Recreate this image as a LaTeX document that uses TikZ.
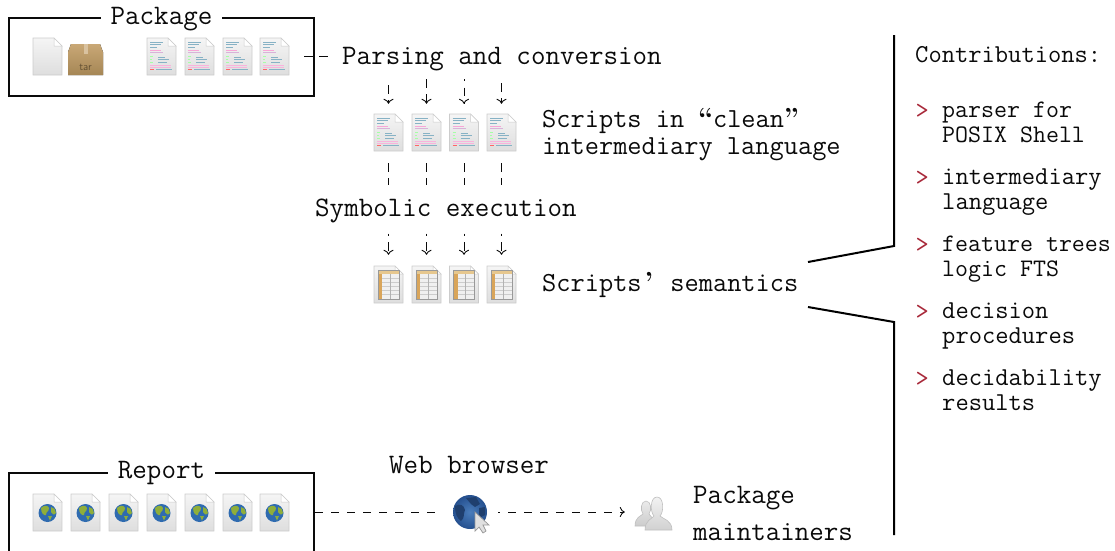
\documentclass[tikz,border=0pt]{standalone}
\usetikzlibrary{arrows.meta}
\definecolor{marker}{HTML}{A8293A}
\definecolor{ink}{HTML}{0A0A0A}
\definecolor{ballB}{HTML}{2F6BB0}
\definecolor{land}{HTML}{8FAE3A}
\definecolor{tan}{HTML}{C9A876}
\definecolor{tanD}{HTML}{A58655}
\definecolor{tabH}{HTML}{E6C78E}
\definecolor{tabC}{HTML}{D9A55A}
\definecolor{bigA}{HTML}{4A7DBB}
\definecolor{bigB}{HTML}{25508F}
\definecolor{bigL}{HTML}{1F3F6E}
\newcommand\bigtt{\fontsize{28.2pt}{28pt}\selectfont\ttfamily}
\newcommand\midtt{\fontsize{27.6pt}{27pt}\selectfont\ttfamily}
\newcommand\smalltt{\fontsize{25.8pt}{24.6pt}\selectfont\ttfamily}
\newcommand\smallertt{\fontsize{25.2pt}{24.6pt}\selectfont\ttfamily}
\newcommand\cellglyph[1]{\makebox[0.525em][c]{\rmfamily\bfseries #1}}
\tikzset{
  txt/.style={inner sep=0pt,anchor=base west,text=ink,font=\bigtt,align=left},
  item/.style={inner sep=0pt,anchor=base west,text=ink,font=\smalltt,align=left},
  bullet/.style={inner sep=0pt,anchor=base west,text=marker,font=\smalltt},
  frame/.style={draw=ink,line width=2pt,minimum width=305pt,inner sep=0pt},
  framelabel/.style={fill=white,inner xsep=10pt,inner ysep=1pt,anchor=base,text=ink,font=\bigtt},
  flow/.style={draw=ink,line width=0.9pt,dash pattern=on 8.5pt off 6.5pt},
  tipped/.style={-{Computer Modern Rightarrow[length=5pt,width=10pt]}},
  brace/.style={draw=black,line width=2pt},
  docbody/.style={draw=black!20,line width=0.7pt,top color=black!4,bottom color=black!13},
  docnode/.style={inner sep=0pt,minimum width=29pt,minimum height=37pt},
  pics/docshape/.style={code={
    \path[docbody] (0,0) -- (21,0) -- (29,8) -- (29,37) -- (0,37) -- cycle;
    \path[draw=black!20,fill=white,line width=0.5pt] (21,0) -- (21,8) -- (29,8) -- cycle;
  }},
  pics/blankfile/.style={code={\pic at (0,0) {docshape};
    \node[docnode] (-b) at (14.5,18.5) {};}},
  pics/textfile/.style={code={
    \pic at (0,0) {docshape};
    \node[docnode] (-b) at (14.5,18.5) {};
    \begin{scope}[line width=0.7pt]
      \draw[color=blue!30!cyan!35!gray!70] (3,4)--(16,4) (3,6.5)--(14,6.5) (3,9)--(10,9);
      \draw[color=magenta!35] (3,12)--(14,12);
      \draw[color=violet!30] (3,14)--(16,14);
      \draw[color=green!35] (3,18)--(6,18) (3,21)--(5,21) (3,24)--(6,24);
      \draw[color=blue!30!cyan!35!gray!70] (11,19)--(18,19) (11,21.5)--(22,21.5) (11,24)--(20,24) (9,31.5)--(25,31.5);
      \draw[color=magenta!30] (3,27)--(24,27) (3,29)--(24,29);
      \draw[color=red!60] (3,31.5)--(7,31.5);
    \end{scope}
  }},
  pics/tablefile/.style={code={
    \pic at (0,0) {docshape};
    \node[docnode] (-b) at (14.5,18.5) {};
    \fill[black!6] (4,4) rectangle (25,33);
    \fill[tabH] (4,4) rectangle (25,8);
    \fill[tabC] (4,8) rectangle (8,33);
    \foreach \r in {12,16,20,24,28} \draw[black!20,line width=0.5pt] (8,\r) -- (25,\r);
    \draw[black!30,line width=0.6pt] (16,8) -- (16,33);
    \draw[black!40,line width=0.8pt] (4,4) rectangle (25,33);
  }},
  pics/globefile/.style={code={
    \pic at (0,0) {docshape};
    \node[docnode] (-b) at (14.5,18.5) {};
    \fill[ballB] (14.5,19) circle (9);
    \fill[land] (8,14) .. controls (11,11) and (15,11) .. (16,14) .. controls (16,18) and (13,17) .. (13,21) .. controls (11,22) and (8,19) .. cycle;
    \fill[land] (18,13) .. controls (21,13) and (23,16) .. (23,19) .. controls (21,22) and (19,20) .. (18,18) -- cycle;
    \fill[land] (15,22) -- (19,22) -- (17,26.5) -- cycle;
  }},
  pics/tarbox/.style={code={
    \node[inner sep=0pt,minimum width=35pt,minimum height=31pt] (-b) at (17.5,15.5) {};
    \fill[top color=tan,bottom color=tanD] (0,8) -- (3,0) -- (32,0) -- (35,8) -- (35,31) -- (0,31) -- cycle;
    \fill[tan!70!white] (15.5,0) rectangle (19.5,10);
    \node[inner sep=0pt,text=tanD!60!black,font=\sffamily\fontsize{11pt}{11pt}\selectfont] (-l) at (17.5,23) {tar};
  }},
  pics/webglobe/.style={code={
    \node[circle,inner sep=0pt,minimum size=34pt] (-b) at (0,0) {};
    \shade[inner color=bigA,outer color=bigB] (0,0) circle (17);
    \fill[bigL] (-15,-6) .. controls (-10,-9) and (-6,-7) .. (-5,-2) .. controls (-7,2) and (-5,6) .. (-9,9) .. controls (-13,6) and (-15,2) .. cycle;
    \fill[bigL] (-4,-14) -- (6,-15) -- (10,-8) -- (5,-5) -- (1,-8) -- cycle;
    \fill[bigL] (9,-4) -- (15,-5) -- (15,3) -- (9,6) -- cycle;
    \path[draw=black!40,fill=black!12,line width=0.7pt] (5,0) -- (5,19) -- (9,15) -- (13,21) -- (16,19) -- (13,13) -- (19,13) -- cycle;
  }},
  pics/users/.style={code={
    \node[inner sep=0pt,minimum width=37pt,minimum height=33pt] (-b) at (18.5,16.5) {};
    \path[draw=black!25,top color=black!8,bottom color=black!20,line width=0.6pt] (0,29) .. controls (0,20) and (6,19) .. (8,17) .. controls (5,13) and (6,4) .. (11,4) .. controls (16,4) and (17,13) .. (14,17) .. controls (17,19) and (18,21) .. (18,29) -- cycle;
    \path[draw=black!25,top color=black!5,bottom color=black!18,line width=0.6pt] (10,33) .. controls (10,23) and (17,22) .. (19,19) .. controls (15,15) and (15,0) .. (22,0) .. controls (29,0) and (29,15) .. (25,19) .. controls (28,22) and (37,23) .. (37,33) -- cycle;
  }},
}
\begin{document}
\begin{tikzpicture}[x=1pt,y=-1pt]
\useasboundingbox (0,0) rectangle (1115,550);
% frames
\node[frame,minimum height=78pt] (pkg) at (161.5,57) {};
\node[framelabel] (pkglabel) at (161.5,24) {Package};
\node[frame,minimum height=78.8pt] (rep) at (161.5,512.4) {};
\node[framelabel] (replabel) at (161.5,478.5) {Report};
% package icons
\pic (blank) at (33,38) {blankfile};
\pic (tar) at (68,44) {tarbox};
\pic (p1) at (147,38) {textfile};
\pic (p2) at (185,38) {textfile};
\pic (p3) at (223,38) {textfile};
\pic (p4) at (260,38) {textfile};
% report icons
\pic (r1) at (33,494) {globefile};
\pic (r2) at (71,494) {globefile};
\pic (r3) at (109,494) {globefile};
\pic (r4) at (147,494) {globefile};
\pic (r5) at (185,494) {globefile};
\pic (r6) at (223,494) {globefile};
\pic (r7) at (260,494) {globefile};
% text
\node[txt] (parse) at (342,64.5) {Parsing and conversion};
\node[txt,font=\midtt] (clean) at (542,154) {Scripts in \cellglyph{“}clean\cellglyph{”}\\intermediary language};
\node[txt] (sym) at (315,216) {Symbolic execution};
\node[txt,font=\midtt] (sem) at (542,291.5) {Scripts\cellglyph{’} semantics};
\node[txt] (web) at (389,473) {Web browser};
\node[txt,font=\fontsize{28.2pt}{37pt}\selectfont\ttfamily] (maint) at (693,540) {Package\\maintainers};
\node[item] (contrib) at (915,62.5) {Contributions:};
\node[bullet] (b1) at (915.5,118) {>};
\node[item,font=\smallertt] (i1) at (942,142.5) {parser for\\POSIX Shell};
\node[bullet] (b2) at (915.5,185) {>};
\node[item] (i2) at (942,209.5) {intermediary\\language};
\node[bullet] (b3) at (915.5,252) {>};
\node[item,font=\smallertt] (i3) at (942,276.5) {feature trees\\logic FTS};
\node[bullet] (b4) at (915.5,319) {>};
\node[item] (i4) at (942,343.5) {decision\\procedures};
\node[bullet] (b5) at (915.5,386) {>};
\node[item] (i5) at (942,410.5) {decidability\\results};
% stage icons
\pic (t1) at (374,114) {textfile};
\pic (t2) at (412,114) {textfile};
\pic (t3) at (449.5,114) {textfile};
\pic (t4) at (487,114) {textfile};
\pic (s1) at (374,266) {tablefile};
\pic (s2) at (412,266) {tablefile};
\pic (s3) at (449.5,266) {tablefile};
\pic (s4) at (487,266) {tablefile};
\pic (wb) at (470,512) {webglobe};
\pic (us) at (635,497) {users};
% connectors
\coordinate (pkgout) at (304,56.7);
\draw[flow,shorten >=13pt] (pkgout) -- (pkgout -| parse.west);
\draw[flow,tipped,shorten <=14pt,shorten >=10pt] (t1-b.north |- parse.south) -- (t1-b.north);
\draw[flow,tipped,shorten <=8pt,shorten >=10pt] (t2-b.north |- parse.south) -- (t2-b.north);
\draw[flow,tipped,dash phase=6.5pt,shorten <=8pt,shorten >=10pt] (t3-b.north |- parse.south) -- (t3-b.north);
\draw[flow,tipped,shorten <=12pt,shorten >=10pt] (t4-b.north |- parse.south) -- (t4-b.north);
\foreach \c in {1,2,3,4} {
  \draw[flow,shorten <=12pt,shorten >=13pt] (t\c-b.south) -- (t\c-b.south |- sym.north);
  \draw[flow,tipped,dash phase=6.5pt,shorten <=11pt,shorten >=11pt] (s\c-b.north |- sym.south) -- (s\c-b.north);
}
\draw[flow,dash pattern=on 8pt off 8pt,shorten >=17pt] (rep.east |- wb-b.center) -- (wb-b.west);
\draw[flow,tipped,dash pattern=on 8pt off 8pt,dash phase=6pt,shorten <=11pt,shorten >=10pt] (wb-b.east) -- (wb-b.east -| us-b.west);
% bracket
\coordinate (top) at (894,35);
\coordinate (kneeA) at (894,246);
\coordinate (endA) at (808,262);
\coordinate (endB) at (808,307);
\coordinate (kneeB) at (894,322);
\coordinate (bottom) at (894,535);
\draw[brace] (top) -- (kneeA) -- (endA);
\draw[brace] (endB) -- (kneeB) -- (bottom);
\end{tikzpicture}
\end{document}
